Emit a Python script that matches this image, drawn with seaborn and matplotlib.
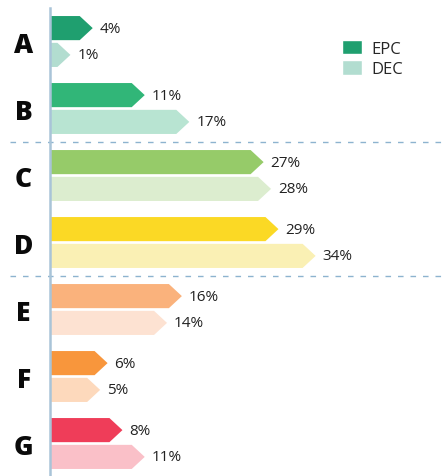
import pandas as pd
import matplotlib
matplotlib.use("Agg")
import matplotlib.pyplot as plt
from matplotlib.patches import Polygon, Patch
import seaborn as sns

# -----------------------------
# Data
# -----------------------------
grades = ["A", "B", "C", "D", "E", "F", "G"]
epc = [4, 11, 27, 29, 16, 6, 8]
dec = [1, 17, 28, 34, 14, 5, 11]

epc_colors = ["#1f9f6f", "#31b678", "#96cb69", "#fbd925", "#fab27c", "#f8963c", "#ef3d59"]
dec_colors = ["#b2ddd0", "#b8e4d2", "#dcedcf", "#faf0b4", "#fde2d2", "#fdd9bc", "#fac0c8"]

df = pd.DataFrame({
    "grade": grades * 2,
    "value": epc + dec,
    "series": ["EPC"] * len(grades) + ["DEC"] * len(grades),
})

# -----------------------------
# Style
# -----------------------------
sns.set_style("white")
plt.rcParams["font.family"] = ["Open Sans", "DejaVu Sans"]

W, H = 446, 477
fig = plt.figure(figsize=(W / 100, H / 100), dpi=100)
ax = fig.add_axes([50 / W, 0, 396 / W, (H - 9) / H])

sns.barplot(data=df, y="grade", x="value", hue="series", order=grades,
            hue_order=["EPC", "DEC"], orient="h", width=0.8, gap=0.1,
            legend=False, ax=ax)

ax.set_xlim(0, 396 / 7.43)
ax.set_ylim(6.485, -0.5)

# turn every bar into an arrow
tip = 13 / 7.43
for container, colors in zip(ax.containers, [epc_colors, dec_colors]):
    for rect, val, col in zip(container.patches, container.datavalues, colors):
        y0 = rect.get_y()
        h = rect.get_height()
        w = rect.get_width()
        rect.set_visible(False)
        poly = Polygon([(0, y0), (w, y0), (w + tip, y0 + h / 2), (w, y0 + h), (0, y0 + h)],
                       closed=True, facecolor=col, edgecolor="none")
        ax.add_patch(poly)
        ax.annotate(f"{val:.0f}%", (w + tip, y0 + h / 2), xytext=(5, 0),
                    textcoords="offset points", va="center", ha="left",
                    fontsize=11, color="#222222")

# dashed separators
for yy in [1.5, 3.5]:
    ax.axhline(yy, xmin=-40 / 396, xmax=1, color="#8db3cf", lw=1,
               ls=(0, (4, 5)), clip_on=False)

for s in ["top", "right", "bottom"]:
    ax.spines[s].set_visible(False)
ax.spines["left"].set_color("#a9c4d8")
ax.spines["left"].set_linewidth(1.8)

ax.set_xticks([])
ax.set_xlabel("")
ax.set_ylabel("")
ax.tick_params(axis="y", length=0, pad=19)
for lab in ax.get_yticklabels():
    lab.set_fontsize(19)
    lab.set_fontweight("heavy")
    lab.set_horizontalalignment("center")
    lab.set_color("#0a0a0a")

handles = [Patch(facecolor=epc_colors[0], label="EPC"),
           Patch(facecolor=dec_colors[0], label="DEC")]
fig.legend(handles=handles, loc="upper left", bbox_to_anchor=(342 / W, (H - 41) / H),
           frameon=False, fontsize=12, handlelength=1.2, handleheight=0.96,
           handletextpad=0.55, labelspacing=0.2, borderpad=0, borderaxespad=0)

fig.savefig("out.png", dpi=100)
